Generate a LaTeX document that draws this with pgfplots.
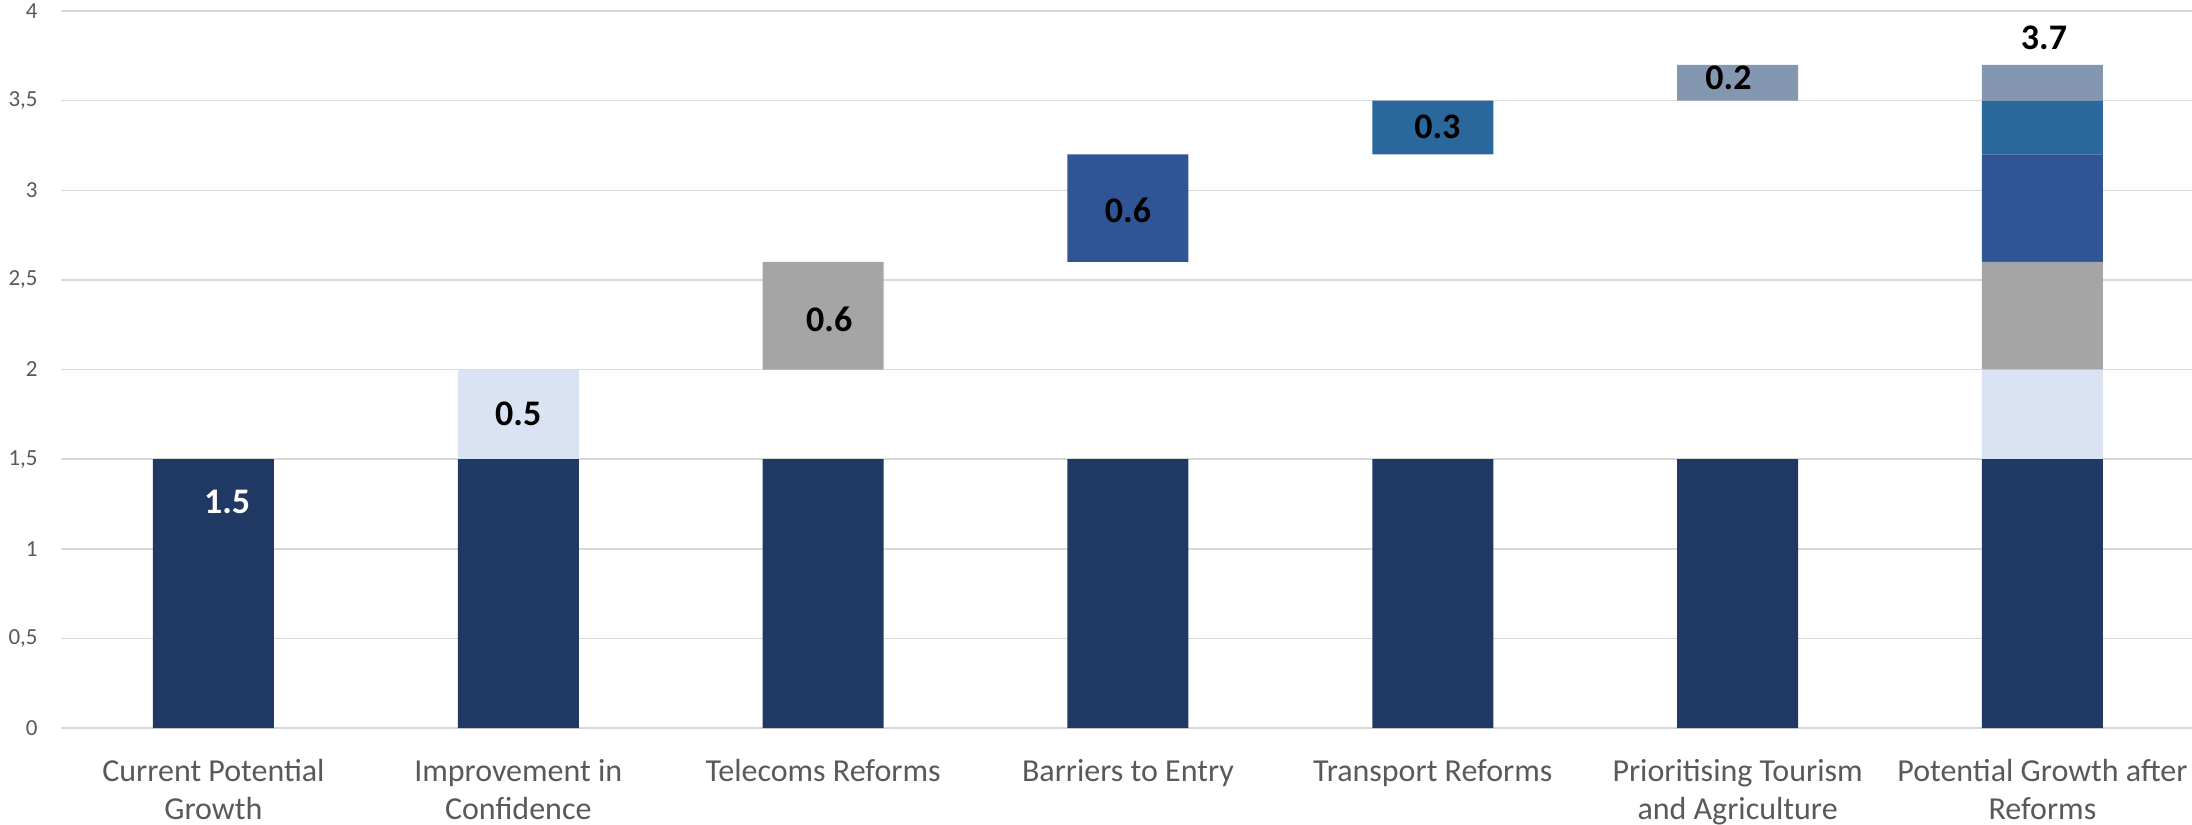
\documentclass[border=0pt]{standalone}
\usepackage{pgfplots}
\pgfplotsset{compat=1.18}
\usepackage{fontspec}
\setmainfont{Carlito}
\definecolor{cbase}{HTML}{203864}
\definecolor{clight}{HTML}{DAE3F3}
\definecolor{cgray}{HTML}{A5A5A5}
\definecolor{cblue}{HTML}{2F5597}
\definecolor{cteal}{HTML}{2A689C}
\definecolor{cgb}{HTML}{8497B0}
\definecolor{gridgray}{HTML}{D9D9D9}
\definecolor{labgray}{HTML}{595959}
\begin{document}
\begin{tikzpicture}
\begin{axis}[name=ax, at={(0,0)}, anchor=south west,
  scale only axis, width=1067pt, height=358.5pt,
  xmin=-0.5, xmax=6.5, ymin=0, ymax=4,
  ybar stacked, bar width=0.397,
  axis line style={draw=none}, major tick length=0pt,
  ymajorgrids, grid style={color=gridgray, line width=0.75pt},
  ytick={0,0.5,1,1.5,2,2.5,3,3.5,4},
  yticklabel style={font=\fontsize{11.5}{13}\selectfont, color=labgray, inner sep=0pt, anchor=east, xshift=-11.5pt,
    /pgf/number format/.cd, use comma, fixed, assume math mode=true},
  xtick={0,1,2,3,4,5,6},
  xticklabels={{Current Potential\\Growth},{Improvement in\\Confidence},{Telecoms Reforms},{Barriers to Entry},{Transport Reforms},{Prioritising Tourism\\and Agriculture},{Potential Growth after\\Reforms}},
  xticklabel style={font=\fontsize{16}{19}\selectfont, color=labgray, align=center, anchor=north, inner sep=0pt, yshift=-15.5pt},
  clip=false,
]
% base
\addplot[fill=cbase, draw=none] coordinates {(0,1.5) (1,1.5) (2,1.5) (3,1.5) (4,1.5) (5,1.5) (6,1.5)};
% invisible offset
\addplot[fill=none, draw=none] coordinates {(0,0) (1,0) (2,0.5) (3,1.1) (4,1.7) (5,2.0) (6,0)};
% improvement in confidence
\addplot[fill=clight, draw=none] coordinates {(0,0) (1,0.5) (2,0) (3,0) (4,0) (5,0) (6,0.5)};
% telecoms
\addplot[fill=cgray, draw=none] coordinates {(0,0) (1,0) (2,0.6) (3,0) (4,0) (5,0) (6,0.6)};
% barriers to entry
\addplot[fill=cblue, draw=none] coordinates {(0,0) (1,0) (2,0) (3,0.6) (4,0) (5,0) (6,0.6)};
% transport
\addplot[fill=cteal, draw=none] coordinates {(0,0) (1,0) (2,0) (3,0) (4,0.3) (5,0) (6,0.3)};
% tourism and agriculture
\addplot[fill=cgb, draw=none] coordinates {(0,0) (1,0) (2,0) (3,0) (4,0) (5,0.2) (6,0.2)};

\coordinate (L0) at (axis cs:0.045,1.26);
\coordinate (L1) at (axis cs:1,1.75);
\coordinate (L2) at (axis cs:2.02,2.28);
\coordinate (L3) at (axis cs:3,2.89);
\coordinate (L4) at (axis cs:4.015,3.355);
\coordinate (L5) at (axis cs:4.97,3.63);
\coordinate (L6) at (axis cs:6.005,3.85);
\end{axis}
\begin{scope}[every node/.style={font=\fontsize{18}{20}\selectfont\bfseries, text=black}]
\node[text=white] at (L0) {1.5};
\node at (L1) {0.5};
\node at (L2) {0.6};
\node at (L3) {0.6};
\node at (L4) {0.3};
\node at (L5) {0.2};
\node at (L6) {3.7};
\end{scope}
\pgfresetboundingbox
\path[use as bounding box] ([shift={(-30.5pt,-48.5pt)}]ax.south west) rectangle ([shift={(1065.5pt,364pt)}]ax.south west);
\end{tikzpicture}
\end{document}
